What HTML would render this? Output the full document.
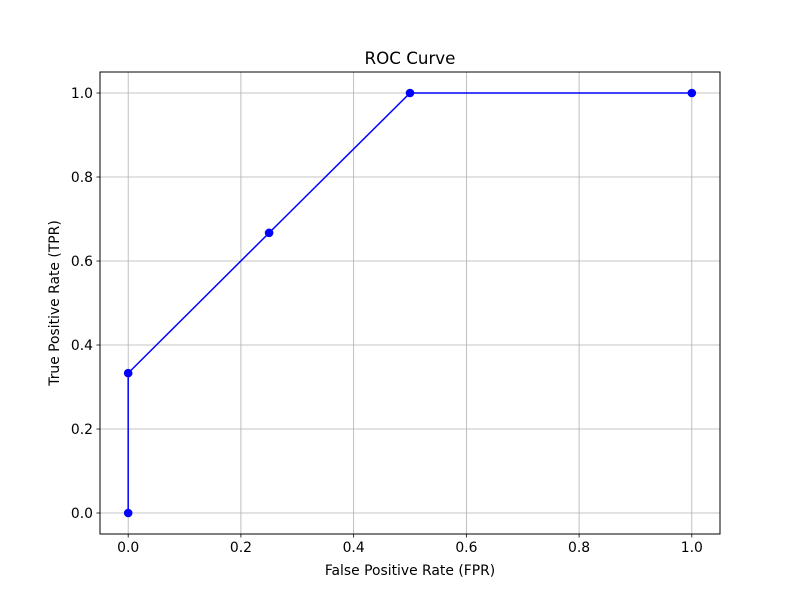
<!DOCTYPE html>
<html><head><meta charset="utf-8"><style>body{margin:0;background:#fff}svg{display:block;font-family:"DejaVu Sans","Liberation Sans",sans-serif}</style></head>
<body>
<svg id="chart" width="800" height="600">
<rect x="0" y="0" width="800" height="600" fill="#fff"/>
<g id="grid"></g>
<g id="ticks"></g>
<g id="series"></g>
<rect x="100" y="72" width="620" height="462" fill="none" stroke="#000" stroke-width="1"/>
<text x="410" y="64" text-anchor="middle" font-size="16.7">ROC Curve</text>
<text x="410" y="575" text-anchor="middle" font-size="13.9">False Positive Rate (FPR)</text>
<text transform="translate(59,303) rotate(-90)" text-anchor="middle" font-size="13.9">True Positive Rate (TPR)</text>
</svg>
<script>
const fprValues = [0, 0, 0.25, 0.5, 1];
const tprValues = [0, 0.333, 0.667, 1, 1];
const xTicks = [0, 0.2, 0.4, 0.6, 0.8, 1.0];
const yTicks = [0, 0.2, 0.4, 0.6, 0.8, 1.0];
const NS = 'http://www.w3.org/2000/svg';
const L = 100, R = 720, T = 72, B = 534;
const xScale = v => L + (v + 0.05) / 1.1 * (R - L);
const yScale = v => B - (v + 0.05) / 1.1 * (B - T);
function mk(tag, attrs, parent) {
  const el = document.createElementNS(NS, tag);
  for (const k in attrs) el.setAttribute(k, attrs[k]);
  parent.appendChild(el);
  return el;
}
const grid = document.getElementById('grid'), ticks = document.getElementById('ticks'), series = document.getElementById('series');
xTicks.forEach(t => {
  const x = xScale(t);
  const g = mk('line', {x1: x, x2: x, y1: T, y2: B, stroke: '#b0b0b0', 'stroke-width': 0.8}, grid);
  
  
  mk('line', {x1: x, x2: x, y1: B, y2: B + 3.5, stroke: '#000', 'stroke-width': 0.8}, ticks);
  const tx = mk('text', {x: x, y: B + 18, 'text-anchor': 'middle', 'font-size': 13.9}, ticks);
  tx.textContent = t.toFixed(1);
  
  
});
yTicks.forEach(t => {
  const y = yScale(t);
  const g = mk('line', {x1: L, x2: R, y1: y, y2: y, stroke: '#b0b0b0', 'stroke-width': 0.8}, grid);
  
  
  mk('line', {x1: L - 3.5, x2: L, y1: y, y2: y, stroke: '#000', 'stroke-width': 0.8}, ticks);
  const tx = mk('text', {x: L - 7, y: y + 5, 'text-anchor': 'end', 'font-size': 13.9}, ticks);
  tx.textContent = t.toFixed(1);
  
  
});
const pts = fprValues.map((v, i) => xScale(v) + ',' + yScale(tprValues[i])).join(' ');
const line = mk('polyline', {points: pts, fill: 'none', stroke: '#0000ff', 'stroke-width': 1.5}, series);


fprValues.forEach((v, i) => {
  const c = mk('circle', {cx: xScale(v), cy: yScale(tprValues[i]), r: 4.3, fill: '#0000ff'}, series);
  
  
});
</script>
</body></html>
